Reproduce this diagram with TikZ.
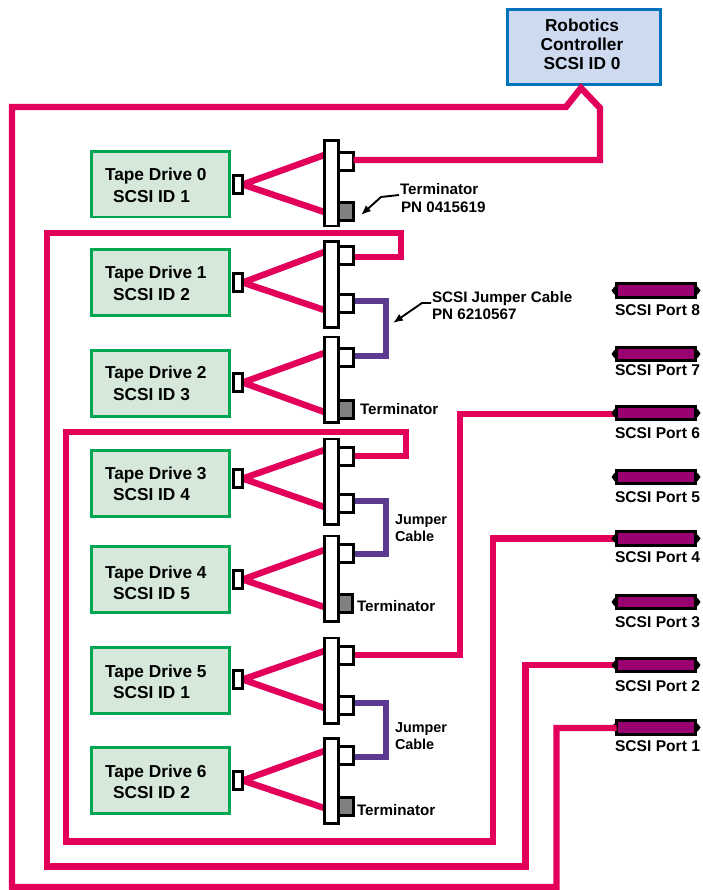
\documentclass[tikz,border=0pt]{standalone}
\usepackage{fontspec}
\setmainfont{Liberation Sans}
\usetikzlibrary{arrows.meta,backgrounds,calc}
\definecolor{cable}{HTML}{E2005A}
\definecolor{jumper}{HTML}{5C3A92}
\definecolor{portfill}{HTML}{990070}
\definecolor{drivefill}{HTML}{D5E8D9}
\definecolor{drivedraw}{HTML}{00A651}
\definecolor{robofill}{HTML}{CDDAF0}
\definecolor{robodraw}{HTML}{0072BC}
\definecolor{termfill}{HTML}{808080}
\tikzset{
  rectbase/.style={rectangle,inner sep=0pt,outer sep=0pt},
  drivebox/.style={rectbase,draw=drivedraw,fill=drivefill,line width=2.6pt},
  robobox/.style={rectbase,draw=robodraw,fill=robofill,line width=3pt},
  busbar/.style={rectbase,draw=black,fill=white,line width=2.6pt},
  termbox/.style={rectbase,draw=black,fill=termfill,line width=2.6pt},
  portbox/.style={rectbase,draw=black,fill=portfill,line width=3pt,minimum width=79pt,minimum height=13.5pt},
  cablepath/.style={draw=cable,line width=6.4pt,miter limit=10},
  jumperpath/.style={draw=jumper,line width=5.6pt},
  callout/.style={draw=black,line width=1.9pt,-{Latex[length=10pt,width=8pt]}},
  lab/.style={inner sep=0pt,outer sep=0pt,anchor=base west,font=\bfseries\fontsize{15.2}{16}\selectfont},
  drivelab/.style={lab,font=\bfseries\fontsize{17.3}{18}\selectfont},
  jumplab/.style={lab,font=\bfseries\fontsize{14.4}{16}\selectfont},
  roblab/.style={inner sep=0pt,outer sep=0pt,anchor=base,font=\bfseries\fontsize{17.3}{18}\selectfont},
  portlab/.style={inner sep=0pt,outer sep=0pt,anchor=base,font=\bfseries\fontsize{15.6}{16}\selectfont},
}
% style, name, x0, y0, x1, y1 (outer edges of the border)
\newcommand{\bx}[6]{\node[#1,minimum width={#5-#3-2.6},minimum height={#6-#4-2.6}] (#2) at ({(#3+#5)/2},{(#4+#6)/2}) {};}
% index, box top, small-connector top, bar top, tip y up, tip y low, baseline 1, baseline 2, id
\newcommand{\tapedrive}[9]{%
  \bx{drivebox}{d#1}{90}{#2}{231}{#2+68.5}
  \bx{busbar}{s#1}{232}{#3}{244}{#3+21}
  \bx{busbar}{b#1}{323}{#4}{340}{#4+88}
  \node[drivelab] (dl#1) at (105,#7) {Tape Drive #1};
  \node[drivelab] (di#1) at (113,#8) {SCSI ID #9};
  \begin{scope}[on background layer]
    \draw[cablepath] (b#1.west |- 0,#5) -- (s#1.east) -- (b#1.west |- 0,#6);
  \end{scope}
}
\newcommand{\scsiport}[3]{%
  \node[portbox] (p#1) at (656,#2) {};
  \fill[black] ($(p#1.west)+(-5,0)$) -- ($(p#1.west)+(-2.5,-3.5)$) -- ($(p#1.west)+(0,-5)$) -- ($(p#1.west)+(0,5)$) -- ($(p#1.west)+(-2.5,3.5)$) -- cycle;
  \fill[black] ($(p#1.east)+(5,0)$) -- ($(p#1.east)+(2.5,-3.5)$) -- ($(p#1.east)+(0,-5)$) -- ($(p#1.east)+(0,5)$) -- ($(p#1.east)+(2.5,3.5)$) -- cycle;
  \node[portlab] (pl#1) at (657.5,#3) {SCSI Port #1};
}
\begin{document}
\begin{tikzpicture}[x=1pt,y=-1pt]
\useasboundingbox (0,0) rectangle (702,890);

\bx{robobox}{robot}{506}{8}{662}{86}
\node[roblab] (r1) at (582,32) {Robotics};
\node[roblab] (r2) at (582,51) {Controller};
\node[roblab] (r3) at (582,70) {SCSI ID 0};

\tapedrive{0}{150}{174}{139.5}{155}{212}{181}{203}{1}
\tapedrive{1}{248}{272}{240.5}{252}{310}{279}{300}{2}
\tapedrive{2}{349}{372}{335.5}{353}{412}{378}{400}{3}
\tapedrive{3}{449}{468}{437.5}{450}{507}{479}{500}{4}
\tapedrive{4}{545}{569}{534.5}{550}{607}{578}{599}{5}
\tapedrive{5}{646}{669}{636.5}{651}{708}{677}{698}{1}
\tapedrive{6}{746}{770}{737}{751}{808}{777}{798}{2}

% ports on the bus bars (left border shared with the bar)
\bx{busbar}{u0}{337.4}{151}{355}{172}
\bx{termbox}{t0}{337.4}{201}{355}{222}
\bx{busbar}{u1}{337.4}{245}{355}{266}
\bx{busbar}{l1}{337.4}{293}{355}{314}
\bx{busbar}{u2}{337.4}{347}{355}{368}
\bx{termbox}{t2}{337.4}{399}{355}{420}
\bx{busbar}{u3}{337.4}{446}{355}{467}
\bx{busbar}{l3}{337.4}{493}{355}{514}
\bx{busbar}{u4}{337.4}{543}{355}{564}
\bx{termbox}{t4}{337.4}{593}{354}{614}
\bx{busbar}{u5}{337.4}{645}{355}{666}
\bx{busbar}{l5}{337.4}{695}{355}{716}
\bx{busbar}{u6}{337.4}{745}{355}{766}
\bx{termbox}{t6}{337.4}{796}{355}{817}

% SCSI ports
\scsiport{8}{290.5}{315}
\scsiport{7}{354}{375}
\scsiport{6}{413}{438}
\scsiport{5}{477}{502}
\scsiport{4}{538.5}{562}
\scsiport{3}{602}{627}
\scsiport{2}{665}{691}
\scsiport{1}{727.5}{751}

% free bends
\coordinate (apex) at (581,88);
\begin{scope}[on background layer]
  % drive 1 to port 2
  \draw[cablepath] (u1.east |- 0,257) -- (401,257) -- (401,233) -- (47,233) -- (47,866.5) -- (525.5,866.5) -- (525.5,665) -- (p2.west);
  % drive 3 to port 4
  \draw[cablepath] (u3.east |- 0,456) -- (406,456) -- (406,432) -- (66,432) -- (66,841.5) -- (493,841.5) -- (493,538.5) -- (p4.west);
  % drive 5 to port 6
  \draw[cablepath] (u5.east |- 0,655) -- (460,655) -- (460,414) -- (p6.west |- 0,414);
  % jumpers
  \draw[jumperpath] (l1.east |- 0,301) -- (386,301) -- (386,356) -- (352,356);
  \draw[jumperpath] (l3.east |- 0,501) -- (386,501) -- (386,554) -- (352,554);
  \draw[jumperpath] (l5.east |- 0,703) -- (386,703) -- (386,757) -- (352,757);
\end{scope}
% controller to drive 0 and port 1
\draw[cablepath] (p1.west |- 0,728) -- (556.5,728) -- (556.5,887) -- (12,887) -- (12,107) -- (566,107) -- (apex) -- (600,108) -- (600,160) -- (u0.east |- 0,160);

% labels
\node[lab] (tl0a) at (400,195) {Terminator};
\node[lab] (tl0b) at (401,213) {PN 0415619};
\node[lab] (jl1a) at (432,302) {SCSI Jumper Cable};
\node[lab] (jl1b) at (432,319) {PN 6210567};
\node[lab] (tl2) at (360,414.5) {Terminator};
\node[lab] (tl4) at (357,611.5) {Terminator};
\node[lab] (tl6) at (357,815.5) {Terminator};
\node[jumplab] (jl3a) at (395,524) {Jumper};
\node[jumplab] (jl3b) at (395,541) {Cable};
\node[jumplab] (jl5a) at (395,732) {Jumper};
\node[jumplab] (jl5b) at (395,749) {Cable};

% callouts
\coordinate (ca) at (399,195);
\coordinate (cb) at (381,197);
\coordinate (cc) at (361,215);
\draw[callout] (ca) -- (cb) -- (cc);
\coordinate (cd) at (431,303);
\coordinate (ce) at (422,303);
\coordinate (cf) at (393,323);
\draw[callout] (cd) -- (ce) -- (cf);
\end{tikzpicture}
\end{document}
